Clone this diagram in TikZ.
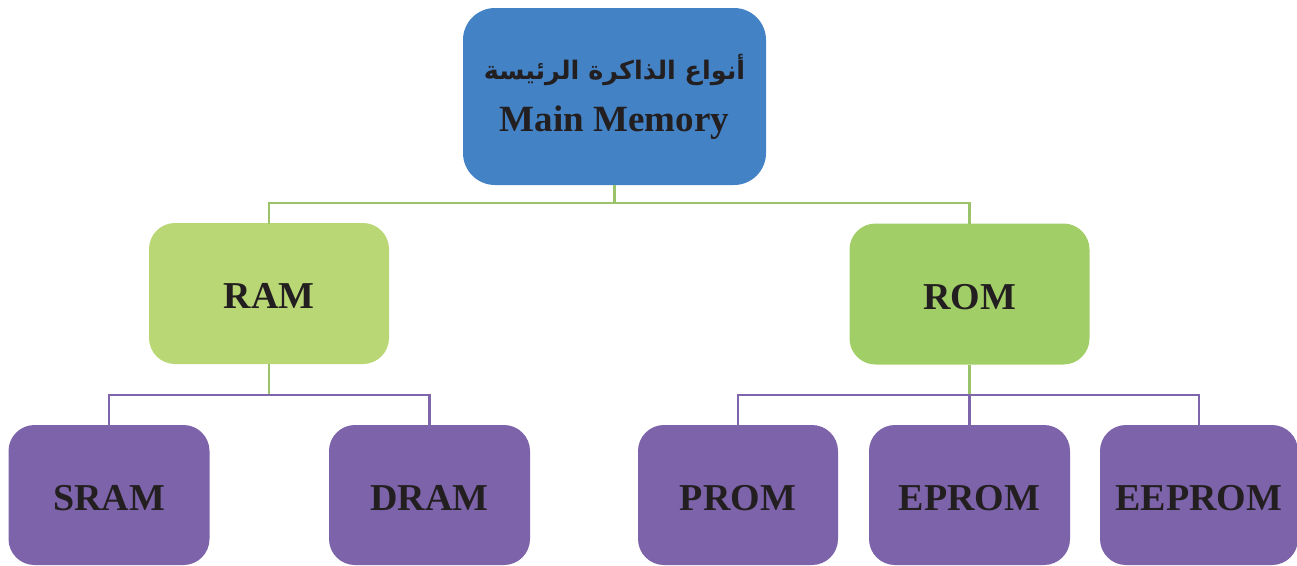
\documentclass[tikz,border=0pt]{standalone}
\usepackage{fontspec}
\setmainfont{Liberation Serif}
\newfontfamily\arabicfont[Script=Arabic]{DejaVu Sans}
\TeXXeTstate=1
\definecolor{mainblue}{HTML}{4382C4}
\definecolor{ramgreen}{HTML}{B9D775}
\definecolor{romgreen}{HTML}{A2CE68}
\definecolor{leafpurple}{HTML}{7D63AA}
\definecolor{linegreen}{HTML}{9BC46A}
\definecolor{linepurple}{HTML}{7F65AC}
\definecolor{txt}{HTML}{231F20}
\begin{document}
\begin{tikzpicture}[x=1pt,y=-1pt,
  box/.style={inner sep=0pt, rounded corners=26pt, text=txt, font=\fontsize{38}{40}\selectfont\bfseries},
  topbox/.style={box, fill=mainblue, minimum width=303pt, minimum height=177pt, rounded corners=32pt, align=center},
  midbox/.style={box, minimum width=240pt, minimum height=141pt, text height=30pt, text depth=0pt},
  leafbox/.style={box, fill=leafpurple, minimum width=201pt, minimum height=140pt, text height=31pt, text depth=0pt},
  gline/.style={draw=linegreen, line width=2.8pt},
  pline/.style={draw=linepurple, line width=2.8pt}]
\useasboundingbox (0,0) rectangle (1297,565);
% nodes
\node[topbox] (main) at (614.5,96.5) {{\arabicfont\fontsize{25.5}{28}\selectfont\bfseries\beginR أنواع الذاكرة الرئيسة\endR}\\[12pt]{\fontsize{37}{39}\selectfont\bfseries Main Memory}};
\node[midbox, fill=ramgreen] (ram) at (269,293.5) {RAM};
\node[midbox, fill=romgreen] (rom) at (969.5,294) {ROM};
\node[leafbox] (sram) at (109,495) {SRAM};
\node[leafbox] (dram) at (429.5,495) {DRAM};
\node[leafbox, minimum width=200pt] (prom) at (738,495) {PROM};
\node[leafbox] (eprom) at (969.5,495) {EPROM};
\node[leafbox, minimum width=198pt] (eeprom) at (1199,495) {EEPROM};
% junctions
\coordinate (j0) at (main.south |- 0,203);
\coordinate (j1) at (ram.south |- 0,395);
\coordinate (j2) at (rom.south |- 0,395);
% connectors
\draw[gline] (main.south) -- (j0);
\draw[gline] (j0) -| ([yshift=-1pt]ram.north);
\draw[gline] (j0) -| ([yshift=-1pt]rom.north);
\draw[gline] (ram.south) -- (j1);
\draw[gline] (rom.south) -- (j2);
\draw[pline] (j1) -| ([yshift=-3pt]sram.north);
\draw[pline] (j1) -| ([yshift=-3pt]dram.north);
\draw[pline] (j2) -| ([yshift=-3pt]prom.north);
\draw[pline] (j2) -- ([yshift=-3pt]eprom.north);
\draw[pline] (j2) -| ([yshift=-3pt]eeprom.north);
\end{tikzpicture}
\end{document}
